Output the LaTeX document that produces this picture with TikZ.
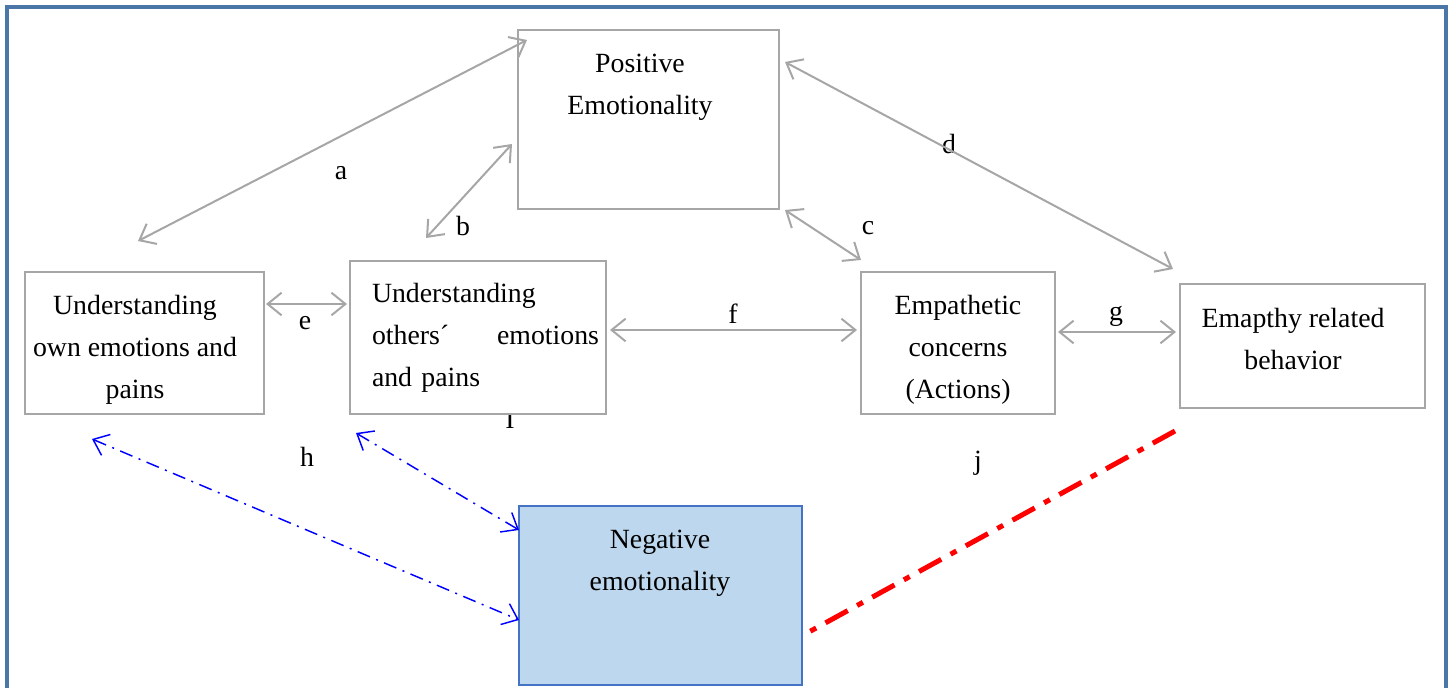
\documentclass[tikz,border=0pt]{standalone}
\usepackage{fontspec}
\setmainfont{Liberation Serif}
\usetikzlibrary{arrows.meta,calc}
\definecolor{framec}{HTML}{4A76A8}
\definecolor{boxgray}{HTML}{A6A6A6}
\definecolor{negfill}{HTML}{BDD7EE}
\definecolor{negdraw}{HTML}{4472C4}
\begin{document}
\begin{tikzpicture}[x=0.75pt,y=-0.75pt,
  every node/.style={font=\fontsize{20.85pt}{31.5pt}\selectfont, inner sep=0pt, outer sep=0pt},
  gbox/.style={draw=boxgray, line width=1.5pt, fill=white, rectangle},
  nbox/.style={draw=negdraw, line width=1.5pt, fill=negfill, rectangle},
  txt/.style={anchor=north, align=center},
  lbl/.style={anchor=base},
  barb/.style={>={Straight Barb[length=10.5pt,width=17pt]}},
  grayarrow/.style={barb, draw=boxgray, line width=1.5pt, <->},
  bluearrow/.style={barb, draw=blue, line width=1.1pt, <->, dash pattern=on 10pt off 5pt on 1.5pt off 5pt},
  redline/.style={draw=red, line width=3.75pt, dash pattern=on 19pt off 8pt on 5pt off 8pt}
]
\useasboundingbox (0,0) rectangle (1453,688);
\draw[framec, line width=2.4pt] (7,7) rectangle (1446,730);

% small label partly hidden by the box
\node[lbl] (li) at (510,428) {I};

% boxes
\node[gbox, minimum width=195.75pt, minimum height=134.25pt] (pos) at (648.5,119.5) {};
\node[gbox, minimum width=179.25pt, minimum height=106.5pt] (own) at (144.5,343) {};
\node[gbox, minimum width=192pt, minimum height=114.75pt] (oth) at (478,337.5) {};
\node[gbox, minimum width=145.5pt, minimum height=106.5pt] (emp) at (958,343) {};
\node[gbox, minimum width=183.75pt, minimum height=93pt] (beh) at (1302.5,346) {};
\node[nbox, minimum width=212.25pt, minimum height=134.25pt] (neg) at (660.5,595.5) {};

% texts
\node[txt] (tpos) at (640,54) {Positive\\Emotionality};
\node[txt] (town) at (135,295) {Understanding\\own emotions and\\pains};
\node[anchor=north west, align=left, text width=170.25pt] (toth) at (372,283) {Understanding\\others´\hfill emotions\\and pains};
\node[txt] (temp) at (958,295) {Empathetic\\concerns\\(Actions)};
\node[txt] (tbeh) at (1293,308) {Emapthy related\\behavior};
\node[txt] (tneg) at (660,530) {Negative\\emotionality};

% connector labels
\node[lbl] (la) at (341,180) {a};
\node[lbl] (lb) at (463,235) {b};
\node[lbl] (lc) at (868,234) {c};
\node[lbl] (ld) at (949,154) {d};
\node[lbl] (le) at (305,329) {e};
\node[lbl] (lf) at (733,323) {f};
\node[lbl] (lg) at (1116,320) {g};
\node[lbl] (lh) at (307,466) {h};
\node[lbl] (lj) at (978,469) {j};

% gray connectors
\draw[grayarrow] ($(own.north)+(-6.5,-31)$) -- ($(pos.north west)+(9,10)$);
\draw[grayarrow] ($(oth.north)+(-52,-23)$) -- ($(pos.west)+(-6,24.5)$);
\draw[grayarrow] ($(pos.south east)+(6,1)$) -- ($(emp.north west)+(0,-12)$);
\draw[grayarrow] ($(pos.north east)+(6,32)$) -- ($(beh.north west)+(-7,-15)$);
\draw[grayarrow] ($(own.east)+(2,-39)$) -- ($(oth.west)+(-3,-33.5)$);
\draw[grayarrow] ($(oth.east)+(4,-7.5)$) -- ($(emp.west)+(-4,-13)$);
\draw[grayarrow] ($(emp.east)+(3,-11)$) -- ($(beh.west)+(-4,-14)$);

% blue connectors
\draw[bluearrow] ($(own.south west)+(67,25)$) -- ($(neg.west)+(0,24.5)$);
\draw[bluearrow] ($(oth.south west)+(6,19)$) -- ($(neg.north west)+(0,24)$);

% red connector
\draw[redline] ($(beh.south west)+(-5,23)$) -- ($(neg.east)+(5,37.5)$);
\end{tikzpicture}
\end{document}
